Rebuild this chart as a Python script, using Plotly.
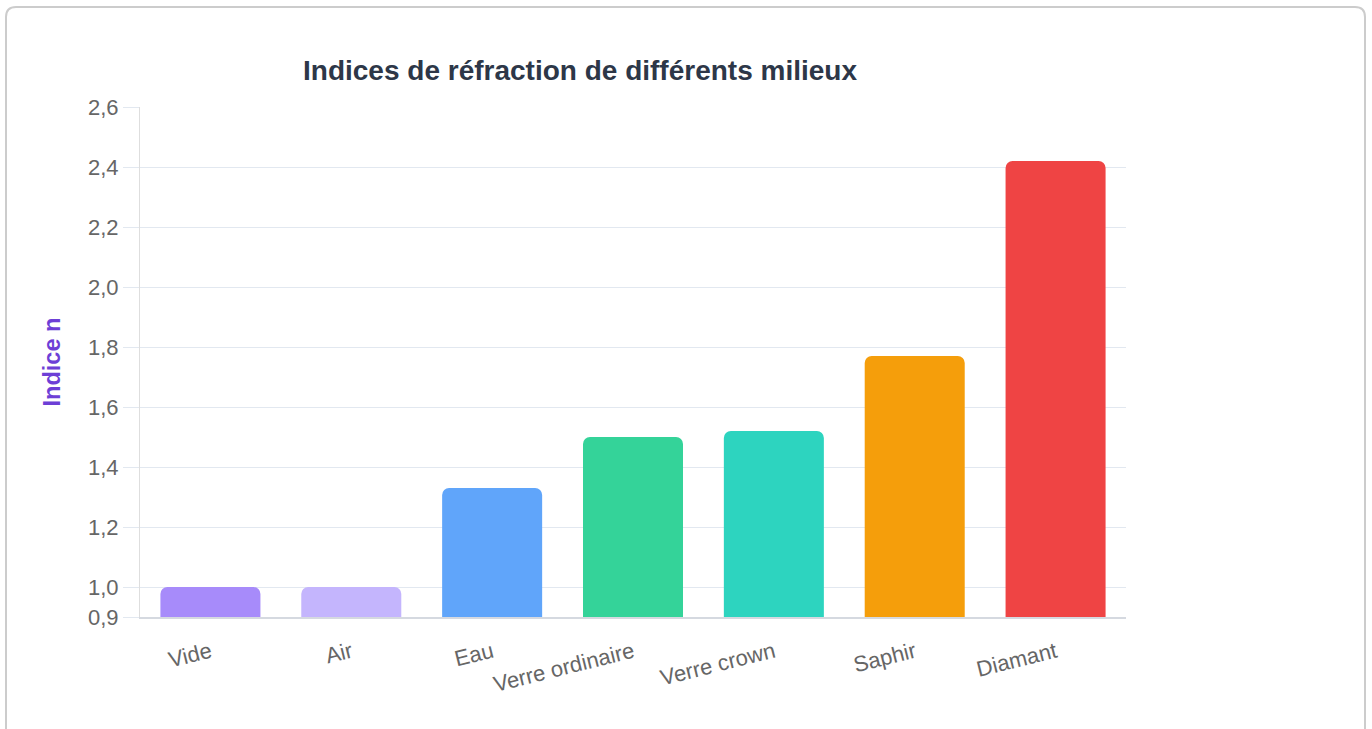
import plotly.graph_objects as go

categories = ["Vide", "Air", "Eau", "Verre ordinaire", "Verre crown", "Saphir", "Diamant"]
indices = [1.0, 1.0003, 1.33, 1.50, 1.52, 1.77, 2.42]
bar_colors = ["#a78bfa", "#c4b5fd", "#60a5fa", "#34d399", "#2dd4bf", "#f59e0b", "#ef4444"]
y_tickvals = [0.9, 1.0, 1.2, 1.4, 1.6, 1.8, 2.0, 2.2, 2.4, 2.6]
y_ticktext = ["0,9", "1,0", "1,2", "1,4", "1,6", "1,8", "2,0", "2,2", "2,4", "2,6"]

W, H = 1372, 729
L, R, T, B = 140, 1372 - 1126, 107, 729 - 617
pw, ph = W - L - R, H - T - B

def px(x):
    return (x - L) / pw

def py(y):
    return (H - B - y) / ph

fig = go.Figure(go.Bar(
    x=categories, y=indices,
    marker=dict(color=bar_colors, line=dict(width=0), cornerradius=7),
    width=0.71,
    hoverinfo="x+y",
))

# card border (rounded rectangle, bottom runs off the page)
x0, x1, y0, y1, r = 6, 1365, 7, 760, 10
path = (f"M {px(x0)},{py(y1)} L {px(x0)},{py(y0 + r)} "
        f"Q {px(x0)},{py(y0)} {px(x0 + r)},{py(y0)} "
        f"L {px(x1 - r)},{py(y0)} Q {px(x1)},{py(y0)} {px(x1)},{py(y0 + r)} "
        f"L {px(x1)},{py(y1)}")

fig.update_layout(
    width=W, height=H,
    margin=dict(l=L, r=R, t=T, b=B, pad=0),
    paper_bgcolor="white", plot_bgcolor="white",
    font=dict(family="Liberation Sans, Arial, sans-serif", color="#666666"),
    showlegend=False,
    title=dict(text="<b>Indices de réfraction de différents milieux</b>",
               x=580 / W, xanchor="center", y=1 - 70 / H, yanchor="middle",
               font=dict(size=28, color="#2d3748")),
    shapes=[dict(type="path", xref="paper", yref="paper", path=path,
                 line=dict(color="#cccccc", width=2), fillcolor="rgba(0,0,0,0)", layer="below")],
    bargap=0.29,
)
fig.update_yaxes(
    range=[0.9, 2.6], tickvals=y_tickvals, ticktext=y_ticktext,
    showgrid=True, gridcolor="#e2e8f0", gridwidth=1,
    ticks="outside", ticklen=16, tickcolor="#e2e8f0",
    showline=True, linecolor="#dedede", linewidth=1,
    zeroline=False, tickfont=dict(size=22, color="#666666"),
    title=dict(text="<b>Indice n</b>", font=dict(size=23.5, color="#6d3fd6"), standoff=20),
)
fig.update_xaxes(
    showgrid=False, showline=True, linecolor="#d5d9e0", linewidth=2,
    ticks="outside", ticklen=12, tickcolor="rgba(0,0,0,0)",
    tickangle=-14, tickfont=dict(size=22, color="#666666"),
)

fig.write_html("out.html",
               config={"displayModeBar": False},
               post_script="document.body.style.margin='0';document.body.style.overflow='hidden';")
